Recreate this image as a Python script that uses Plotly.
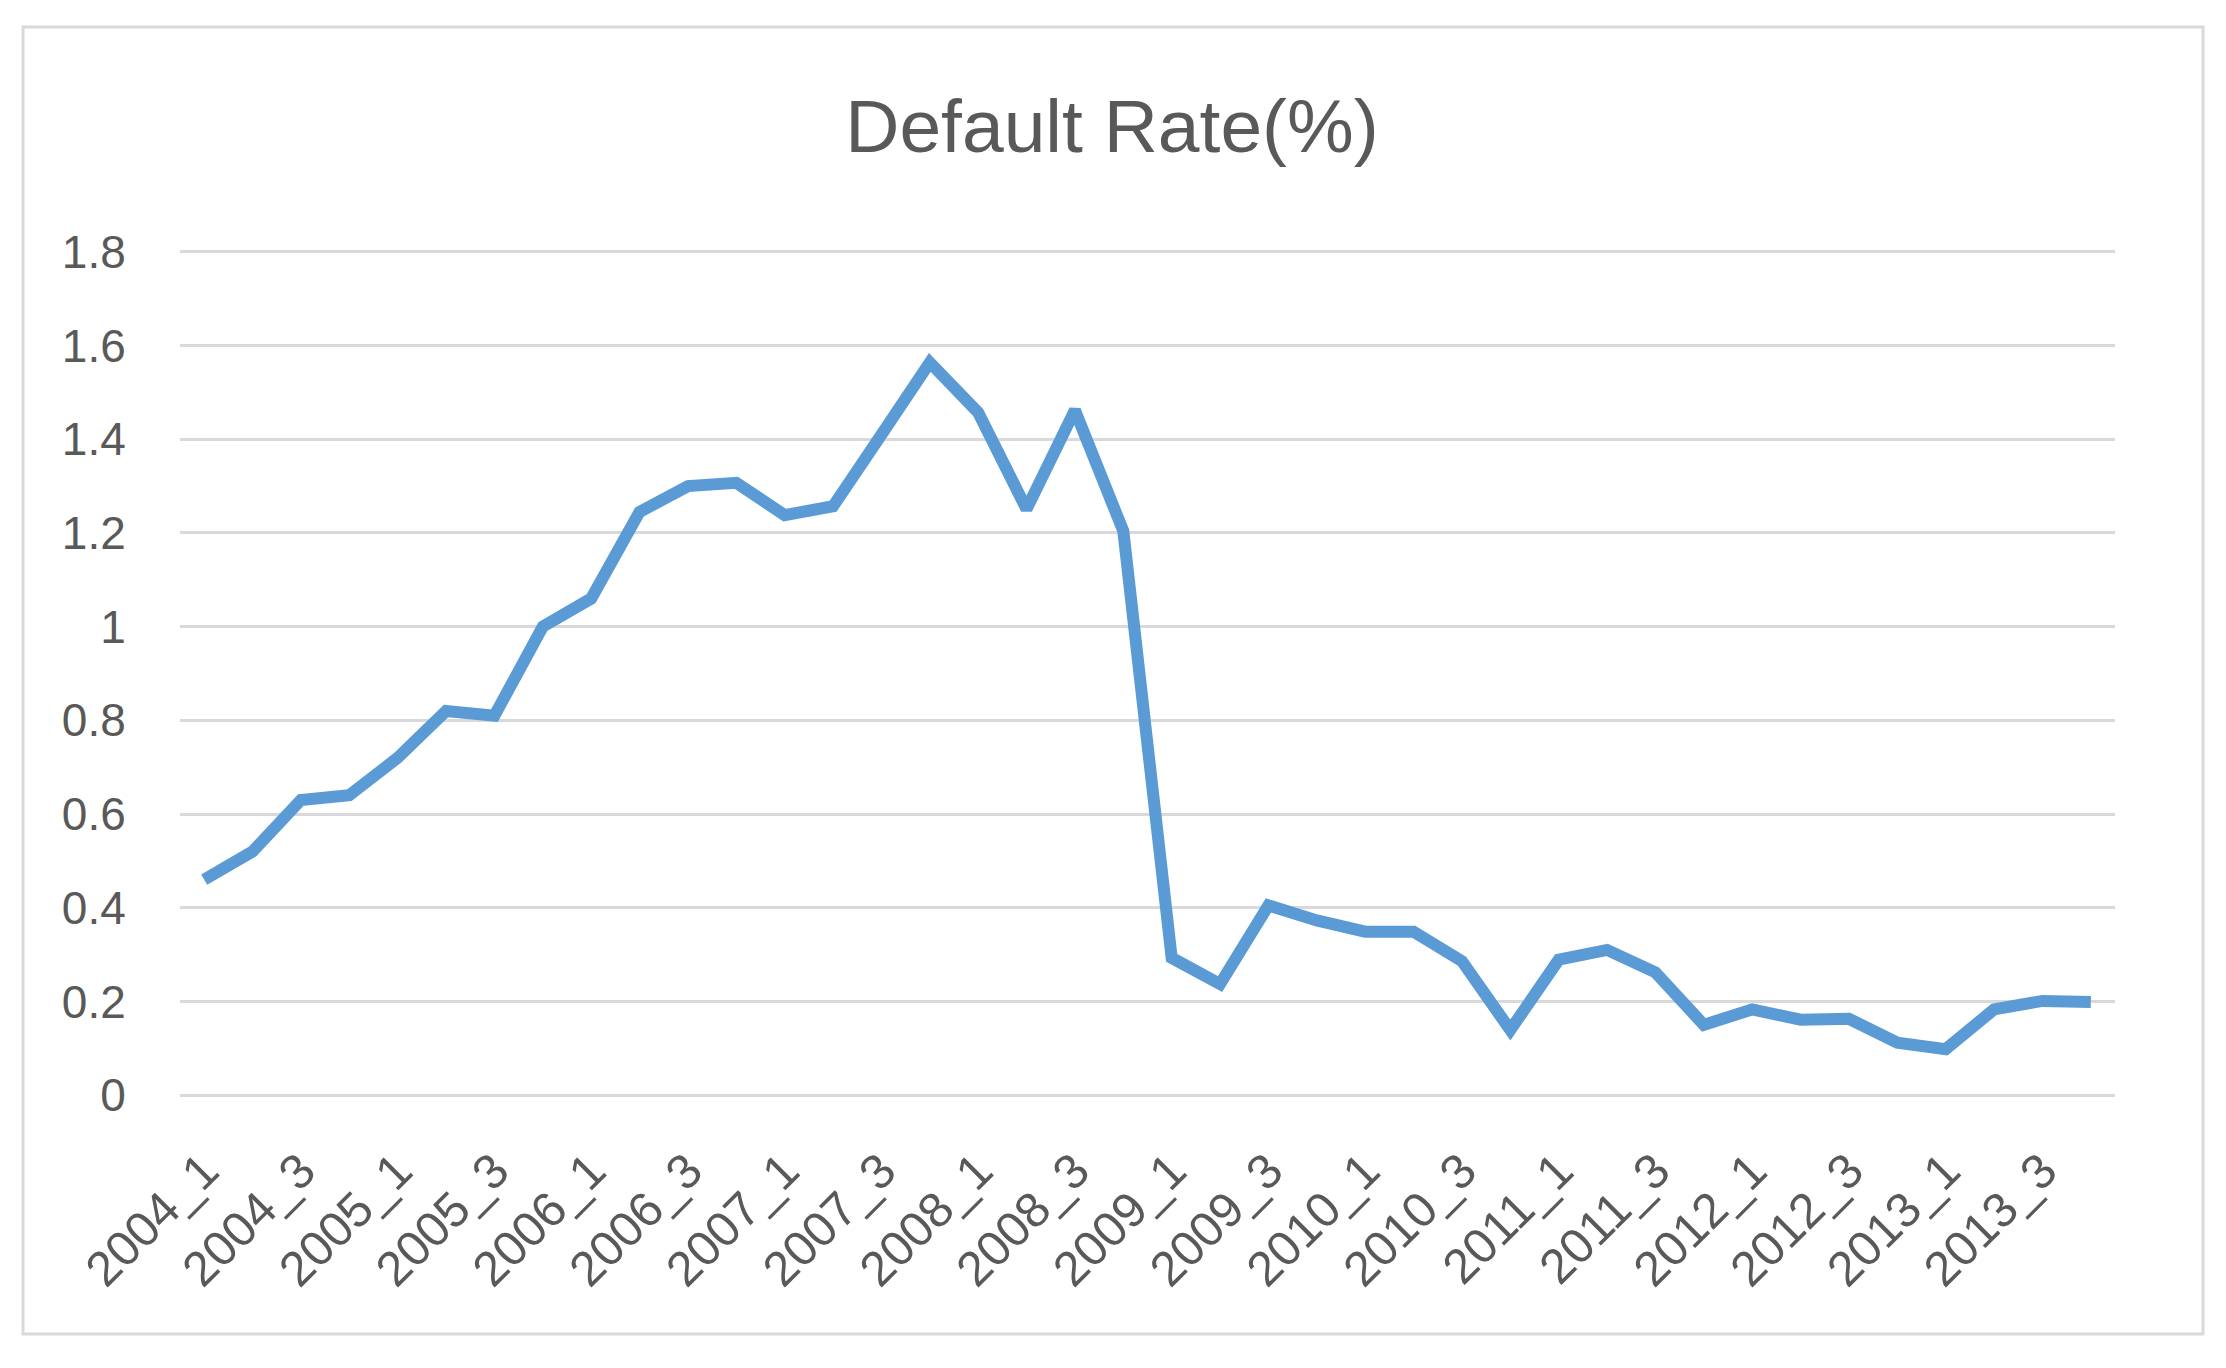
import plotly.graph_objects as go

categories = [f"{y}_{q}" for y in range(2004, 2014) for q in range(1, 5)]
default_rate = [
    0.46, 0.52, 0.63, 0.64, 0.72, 0.82, 0.81, 1.00,
    1.06, 1.245, 1.30, 1.307, 1.238, 1.257, 1.41, 1.564,
    1.457, 1.251, 1.462, 1.204, 0.293, 0.237, 0.405, 0.373,
    0.349, 0.349, 0.286, 0.139, 0.289, 0.31, 0.262, 0.15,
    0.183, 0.161, 0.163, 0.112, 0.098, 0.183, 0.201, 0.199,
]
y_ticks = [0, 0.2, 0.4, 0.6, 0.8, 1, 1.2, 1.4, 1.6, 1.8]
y_ticktext = ["0", "0.2", "0.4", "0.6", "0.8", "1", "1.2", "1.4", "1.6", "1.8"]
x_ticks = categories[::2]

FONT = "Liberation Sans, Arial, sans-serif"
GREY = "#595959"

W, H = 2210, 1352
L, R, T, B = 172, 2107, 242, 1089  # plot area edges in figure pixels
PW, PH = R - L, B - T

fig = go.Figure()
fig.add_trace(go.Scatter(
    x=categories, y=default_rate, mode="lines",
    line=dict(color="#5B9BD5", width=12, shape="linear"),
    showlegend=False,
))

fig.update_layout(
    width=W, height=H,
    paper_bgcolor="white", plot_bgcolor="white",
    margin=dict(l=L, r=W - R, t=T, b=H - B),
    title=dict(
        text="Default Rate(%)",
        x=1104 / W, xanchor="center", xref="container",
        y=1 - 118 / H, yref="container", yanchor="middle",
        font=dict(family=FONT, size=75, color=GREY),
    ),
    font=dict(family=FONT, color=GREY),
    shapes=[dict(
        type="rect", xref="paper", yref="paper",
        x0=(15 - L) / PW, x1=(2195 - L) / PW,
        y0=-(1326 - B) / PH, y1=1 + (T - 19) / PH,
        line=dict(color="#D9D9D9", width=3), layer="below",
    )],
)

fig.update_xaxes(
    type="category", categoryorder="array", categoryarray=categories,
    range=[-0.5, len(categories) - 0.5],
    tickmode="array", tickvals=x_ticks, ticktext=x_ticks,
    tickangle=-45, tickfont=dict(family=FONT, size=49, color=GREY),
    ticks="outside", ticklen=24, tickcolor="rgba(0,0,0,0)",
    showgrid=False, showline=False, zeroline=False,
)
fig.update_yaxes(
    range=[-0.004, 1.804],
    tickmode="array", tickvals=y_ticks, ticktext=y_ticktext,
    tickfont=dict(family=FONT, size=46, color=GREY),
    ticks="outside", ticklen=44, tickcolor="rgba(0,0,0,0)",
    showgrid=True, gridcolor="#D9D9D9", gridwidth=3,
    zeroline=False, showline=False,
)

fig.write_html("out.html")
